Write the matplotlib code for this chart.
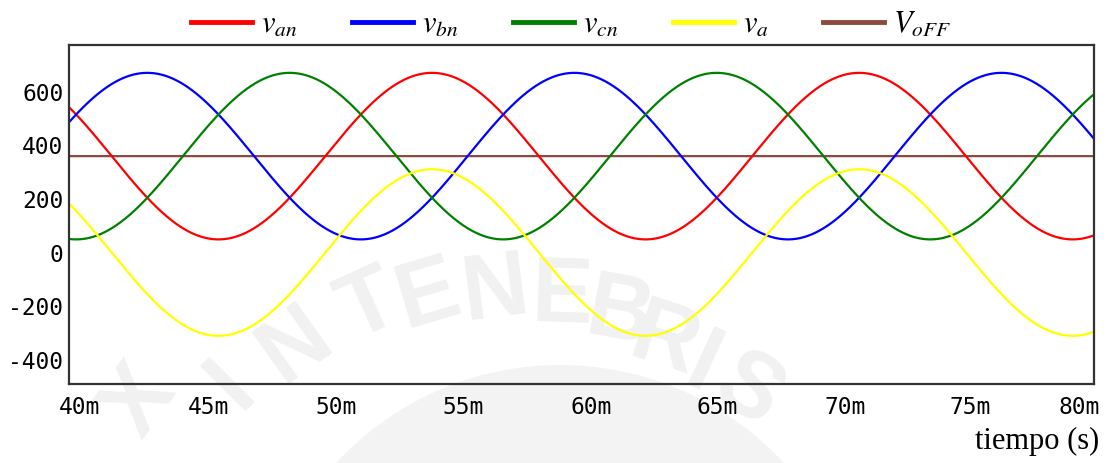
import numpy as np
import matplotlib.pyplot as plt
import matplotlib.transforms as mtransforms
from matplotlib.lines import Line2D
from matplotlib.patches import Circle
from matplotlib.ticker import FuncFormatter

plt.rcParams['mathtext.fontset'] = 'stix'
plt.rcParams['axes.unicode_minus'] = False

# parametros de la red
frecuencia = 60.0          # Hz
v_max = 311.0              # V pico
v_off = 360.0              # nivel de offset
desfases = [0.0, -120.0, 120.0]   # grados para van, vbn, vcn

nombres = [r'$v_{an}$', r'$v_{bn}$', r'$v_{cn}$', r'$v_a$', r'$V_{oFF}$']
colores = ['#ff0000', '#0000ff', '#008000', '#ffff00', '#8b4a3c']

xticks = [0.040, 0.045, 0.050, 0.055, 0.060, 0.065, 0.070, 0.075, 0.080]
yticks = [-400, -200, 0, 200, 400, 600]

t_ini, t_fin = 0.040, 0.080
t = np.linspace(t_ini, t_fin, 3000)
w = 2 * np.pi * frecuencia

fases = []
for d in desfases:
    fases.append(v_off + v_max * np.sin(w * t + np.radians(d)))
va = fases[0] - v_off
voff = np.full_like(t, v_off)

W, H = 1116, 463
fig = plt.figure(figsize=(W / 100, H / 100), dpi=100)

# marca de agua del escudo (gris muy claro, detras de todo)
fig.patches.append(Circle((5.60, (H - 670) / 100), 3.05, transform=fig.dpi_scale_trans,
                          facecolor='#f3f3f3', edgecolor='none', zorder=0))
cx, cy = 548, 700
letras = [('X', 140, 402), ('I', 232, 385), ('N', 296, 345),
          ('T', 370, 307), ('E', 428, 296), ('N', 496, 292), ('E', 562, 298),
          ('B', 620, 316), ('R', 665, 342), ('I', 702, 368), ('S', 748, 392)]
for c, px, py in letras:
    ang = np.degrees(np.arctan2(cx - px, cy - py))
    fig.text(px / W, 1 - py / H, c, ha='center', va='center', rotation=ang,
             fontsize=66, fontweight='bold', family='Liberation Sans',
             color='#f1f1f1', zorder=0)

ax = fig.add_axes([69 / W, 1 - 384 / H, (1094 - 69) / W, (384 - 45) / H])
ax.set_facecolor('none')
ax.set_zorder(2)

ax.plot(t, voff, color=colores[4], lw=1.6)
for i in range(3):
    ax.plot(t, fases[i], color=colores[i], lw=1.6)
ax.plot(t, va, color=colores[3], lw=1.6)

ax.set_xlim(t_ini, t_fin)
ax.set_ylim(-491, 775)
ax.set_xticks(xticks)
ax.set_yticks(yticks)
ax.xaxis.set_major_formatter(FuncFormatter(lambda x, p: '%dm' % round(x * 1000)))
ax.tick_params(length=0, labelsize=16.5, pad=4)
ax.tick_params(axis='x', pad=9)
for lab in ax.get_xticklabels() + ax.get_yticklabels():
    lab.set_family('DejaVu Sans Mono')
# el numero queda centrado en la marca y el ultimo se mete dentro
corrimientos = [10, 11, 11, 10, 10, 8, 7, 4, -15]
for lab, dx in zip(ax.get_xticklabels(), corrimientos):
    lab.set_transform(lab.get_transform() +
                      mtransforms.ScaledTranslation(dx / 100, 0, fig.dpi_scale_trans))
for s in ax.spines.values():
    s.set_color('#333333')
    s.set_linewidth(1.6)

# leyenda arriba del grafico
manejadores = [Line2D([], [], color=c, lw=3.5) for c in colores]
fig.legend(manejadores, nombres, loc='center', bbox_to_anchor=(571 / W, 1 - 24 / H),
           ncol=5, frameon=False, fontsize=22, handlelength=2.0, handletextpad=0.3,
           columnspacing=1.78, borderaxespad=0)

fig.text(1099 / W, 1 - 441 / H, 'tiempo (s)', ha='right', va='center',
         fontsize=22, family='Liberation Serif')

fig.savefig('out.png', dpi=100)
